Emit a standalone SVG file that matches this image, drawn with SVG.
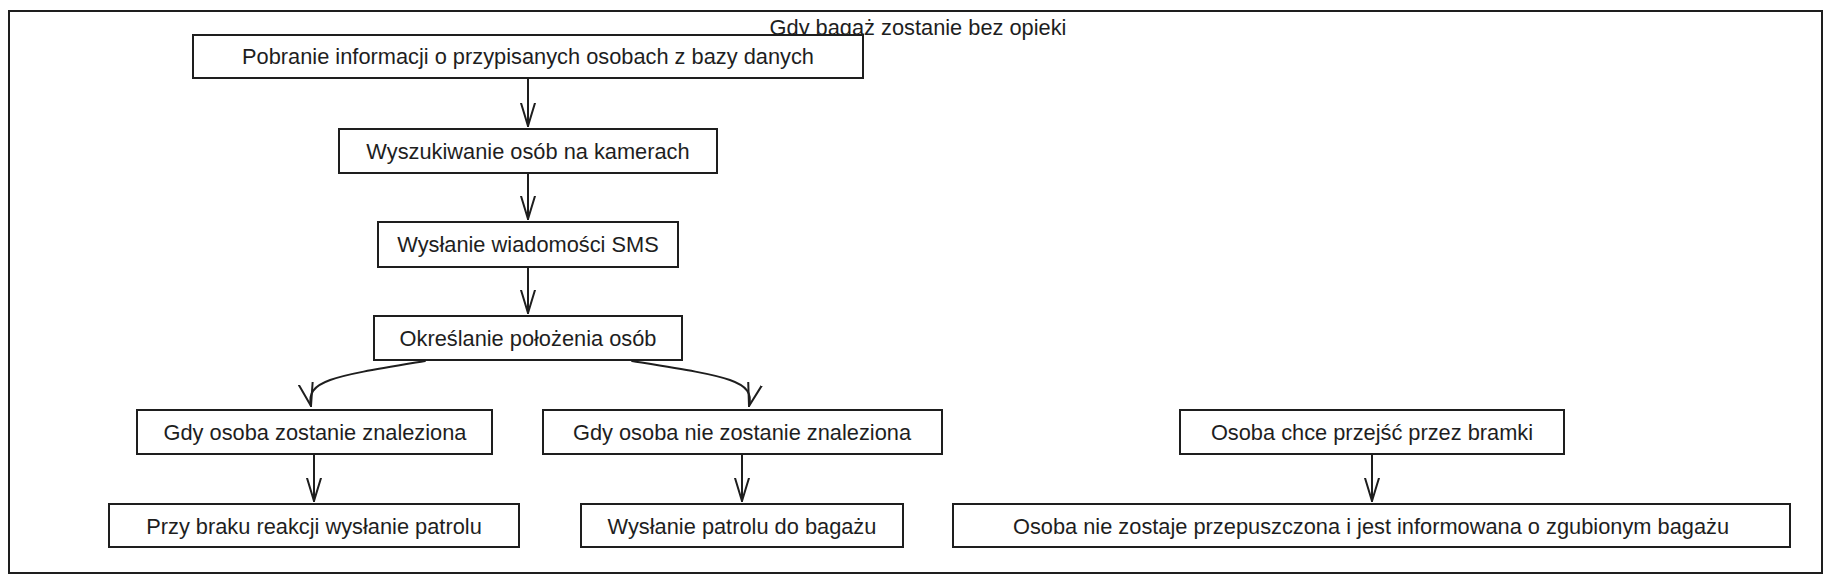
<svg xmlns="http://www.w3.org/2000/svg" width="1834" height="582" viewBox="0 0 1834 582">
<style>
.box{fill:#ffffff;stroke:#1e1e1e;stroke-width:2}
.t{font-family:"Liberation Sans",Arial,sans-serif;font-size:21.8px;fill:#1e1e1e;text-anchor:middle;dominant-baseline:central}
.c{fill:none;stroke:#1e1e1e;stroke-width:2;stroke-linecap:round}
</style>
<defs>
<marker id="ah" viewBox="0 0 24 20" refX="23" refY="10" markerWidth="24" markerHeight="20" markerUnits="userSpaceOnUse" orient="auto">
<path d="M0,3 L23,10 L0,17" fill="none" stroke="#1e1e1e" stroke-width="2" stroke-linecap="round"/>
</marker>
</defs>
<rect width="1834" height="582" fill="#ffffff"/>
<g id="frame">
<rect x="9" y="11" width="1813" height="562" fill="none" stroke="#1e1e1e" stroke-width="2"/>
<text class="t" x="918" y="27">Gdy bagaż zostanie bez opieki</text>
</g>
<g id="n1"><rect class="box" x="193" y="35" width="670" height="43"/><text class="t" x="528" y="56">Pobranie informacji o przypisanych osobach z bazy danych</text></g>
<g id="n2"><rect class="box" x="339" y="129" width="378" height="44"/><text class="t" x="528" y="151">Wyszukiwanie osób na kamerach</text></g>
<g id="n3"><rect class="box" x="378" y="222" width="300" height="45"/><text class="t" x="528" y="244">Wysłanie wiadomości SMS</text></g>
<g id="n4"><rect class="box" x="374" y="316" width="308" height="44"/><text class="t" x="528" y="338">Określanie położenia osób</text></g>
<g id="n5"><rect class="box" x="137" y="410" width="355" height="44"/><text class="t" x="315" y="432">Gdy osoba zostanie znaleziona</text></g>
<g id="n6"><rect class="box" x="543" y="410" width="399" height="44"/><text class="t" x="742" y="432">Gdy osoba nie zostanie znaleziona</text></g>
<g id="n7"><rect class="box" x="109" y="504" width="410" height="43"/><text class="t" x="314" y="526">Przy braku reakcji wysłanie patrolu</text></g>
<g id="n8"><rect class="box" x="581" y="504" width="322" height="43"/><text class="t" x="742" y="526">Wysłanie patrolu do bagażu</text></g>
<g id="n9"><rect class="box" x="1180" y="410" width="384" height="44"/><text class="t" x="1372" y="432">Osoba chce przejść przez bramki</text></g>
<g id="n10"><rect class="box" x="953" y="504" width="837" height="43"/><text class="t" x="1371" y="526">Osoba nie zostaje przepuszczona i jest informowana o zgubionym bagażu</text></g>
<g id="connectors">
<path class="c" d="M528,79 L528,126" marker-end="url(#ah)"/>
<path class="c" d="M528,174 L528,219" marker-end="url(#ah)"/>
<path class="c" d="M528,268 L528,313" marker-end="url(#ah)"/>
<path class="c" d="M425,361 C335,376 305,380 311,406" marker-end="url(#ah)"/>
<path class="c" d="M632,361 C725,376 756,380 749,406" marker-end="url(#ah)"/>
<path class="c" d="M314,455 L314,501" marker-end="url(#ah)"/>
<path class="c" d="M742,455 L742,501" marker-end="url(#ah)"/>
<path class="c" d="M1372,455 L1372,501" marker-end="url(#ah)"/>
</g>
</svg>
